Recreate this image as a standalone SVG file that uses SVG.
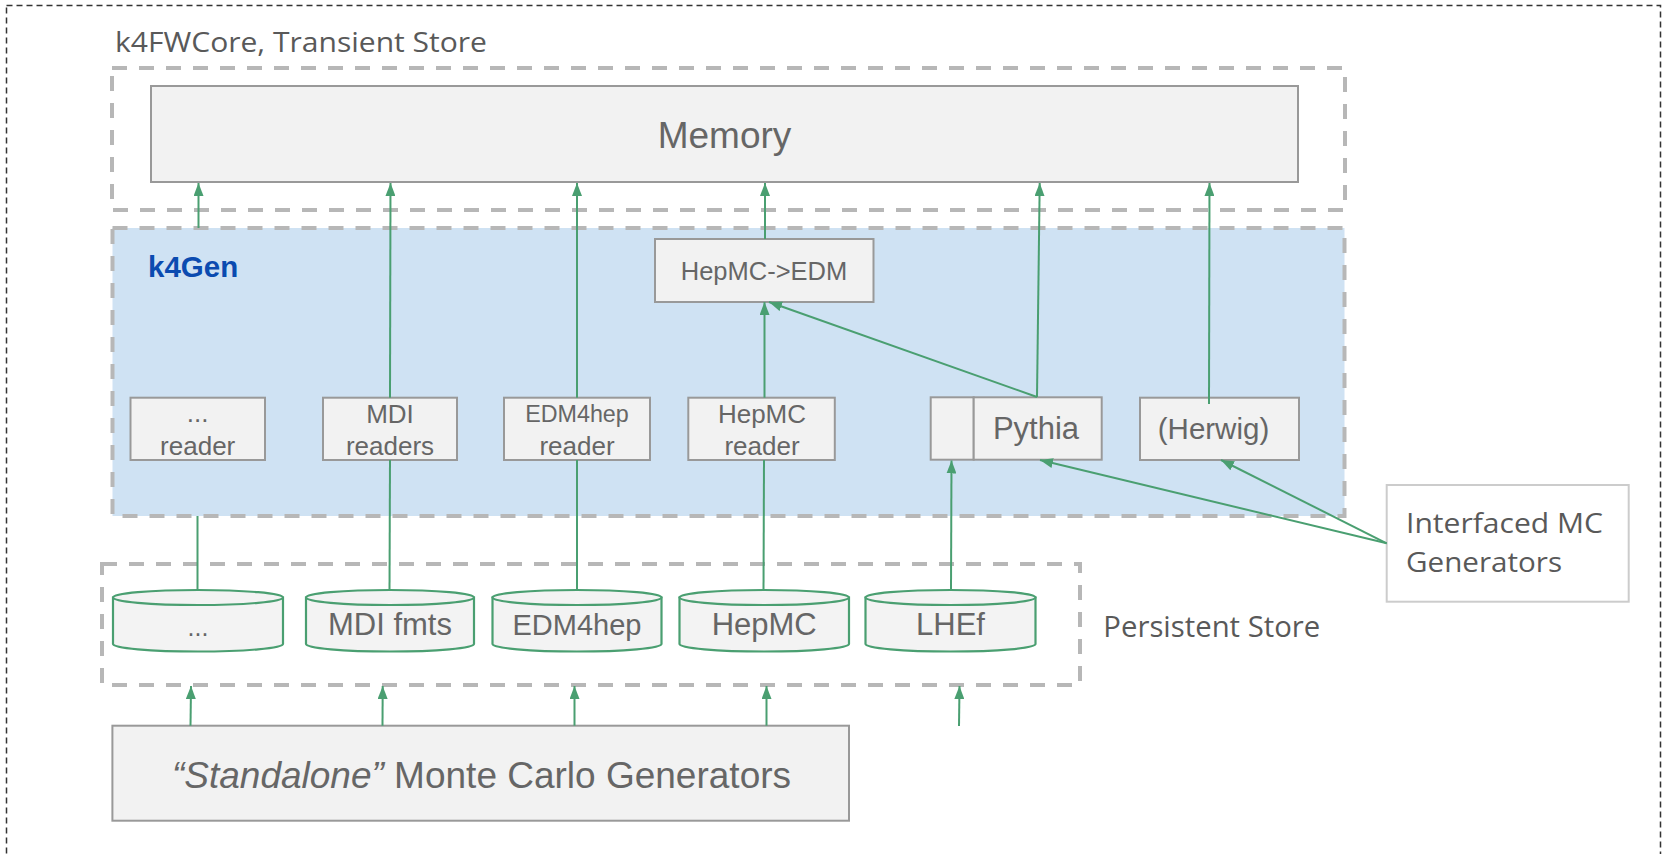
<svg xmlns="http://www.w3.org/2000/svg" width="1663" height="854" viewBox="0 0 1663 854">
<defs>
<style>
.box{fill:#f2f2f2;stroke:#999999;stroke-width:2}
.grp{fill:none;stroke:#b7b7b7;stroke-width:4;stroke-dasharray:15 12}
.cyl{fill:#f3f3f3;stroke:#4a9f71;stroke-width:2.2}
.t{font-family:"Liberation Sans",Arial,sans-serif;fill:#666666;text-anchor:middle}
.p{font-family:"Open Sans","Liberation Sans",sans-serif;fill:#595959}
.c{fill:none;stroke:#4a9f71;stroke-width:2}
.a{marker-end:url(#ah)}
</style>
<marker id="ah" viewBox="0 0 13 10" refX="13" refY="5" markerWidth="13" markerHeight="10" markerUnits="userSpaceOnUse" orient="auto">
<path d="M0,0 L13,5 L0,10 z" fill="#4a9f71"/>
</marker>
</defs>
<rect width="1663" height="854" fill="#ffffff"/>
<rect id="outer" x="6.5" y="5.5" width="1654" height="870" fill="none" stroke="#333333" stroke-width="1.5" stroke-dasharray="6 4"/>

<g id="transient-store">
<rect class="grp" x="112" y="68" width="1233" height="142"/>
<text class="p" x="115" y="52" font-size="26.5" textLength="372" lengthAdjust="spacingAndGlyphs">k4FWCore, Transient Store</text>
</g>
<g id="memory">
<rect class="box" x="151" y="86" width="1147" height="96"/>
<text class="t" x="724.5" y="148" font-size="37">Memory</text>
</g>

<g id="k4gen">
<rect x="112.5" y="228" width="1232" height="288" fill="#cfe2f3"/>
<rect class="grp" x="112.5" y="228" width="1232" height="288"/>
<text x="148" y="277" font-family="Liberation Sans,Arial,sans-serif" font-weight="bold" font-size="29.5" fill="#0b4bb0">k4Gen</text>
</g>

<g id="hepmc2edm">
<rect class="box" x="655" y="239" width="218.5" height="63"/>
<text class="t" x="764" y="280" font-size="25.5">HepMC-&gt;EDM</text>
</g>

<g id="dots-reader">
<rect class="box" x="130.5" y="397.7" width="134.5" height="62.3"/>
<text class="t" x="197.7" y="422" font-size="26">...</text>
<text class="t" x="197.7" y="455" font-size="26">reader</text>
</g>
<g id="mdi-readers">
<rect class="box" x="323" y="397.7" width="134" height="62.3"/>
<text class="t" x="390" y="422.5" font-size="26">MDI</text>
<text class="t" x="390" y="455" font-size="26">readers</text>
</g>
<g id="edm4hep-reader">
<rect class="box" x="504" y="397.7" width="146" height="62.3"/>
<text class="t" x="577" y="422" font-size="23.3">EDM4hep</text>
<text class="t" x="577" y="455" font-size="26">reader</text>
</g>
<g id="hepmc-reader">
<rect class="box" x="688.3" y="397.7" width="146.5" height="62.3"/>
<text class="t" x="762" y="422.5" font-size="26">HepMC</text>
<text class="t" x="762" y="455" font-size="26">reader</text>
</g>
<g id="pythia">
<rect class="box" x="930.7" y="397.3" width="43" height="62.4"/>
<rect class="box" x="973.7" y="397.3" width="128" height="62.4"/>
<text class="t" x="1036" y="439.3" font-size="31">Pythia</text>
</g>
<g id="herwig">
<rect class="box" x="1140" y="397.7" width="159" height="62.3"/>
<text class="t" x="1213.5" y="439.3" font-size="29.5">(Herwig)</text>
</g>

<g id="interfaced">
<rect x="1386.7" y="485" width="242" height="116.7" fill="#ffffff" stroke="#cccccc" stroke-width="2"/>
<text class="p" x="1406" y="533" font-size="28" textLength="197" lengthAdjust="spacingAndGlyphs">Interfaced MC</text>
<text class="p" x="1406" y="572" font-size="28" textLength="156" lengthAdjust="spacingAndGlyphs">Generators</text>
</g>

<g id="persistent-store">
<rect class="grp" x="102" y="564" width="978" height="121"/>
<text class="p" x="1103.3" y="637.3" font-size="29" textLength="217" lengthAdjust="spacingAndGlyphs">Persistent Store</text>
</g>

<g id="cyl-dots">
<path class="cyl" d="M113,597.5 L113,644 A85,7.5 0 0 0 283,644 L283,597.5 Z"/>
<ellipse class="cyl" cx="198" cy="597.5" rx="85" ry="7.5"/>
<text class="t" x="198" y="636" font-size="25">...</text>
</g>
<g id="cyl-mdi">
<path class="cyl" d="M306,597.5 L306,644 A84,7.5 0 0 0 474,644 L474,597.5 Z"/>
<ellipse class="cyl" cx="390" cy="597.5" rx="84" ry="7.5"/>
<text class="t" x="390" y="635" font-size="31">MDI fmts</text>
</g>
<g id="cyl-edm4hep">
<path class="cyl" d="M492.5,597.5 L492.5,644 A84.5,7.5 0 0 0 661.5,644 L661.5,597.5 Z"/>
<ellipse class="cyl" cx="577" cy="597.5" rx="84.5" ry="7.5"/>
<text class="t" x="577" y="635" font-size="29">EDM4hep</text>
</g>
<g id="cyl-hepmc">
<path class="cyl" d="M679.5,597.5 L679.5,644 A84.7,7.5 0 0 0 849,644 L849,597.5 Z"/>
<ellipse class="cyl" cx="764.2" cy="597.5" rx="84.7" ry="7.5"/>
<text class="t" x="764.2" y="635" font-size="31">HepMC</text>
</g>
<g id="cyl-lhef">
<path class="cyl" d="M865.5,597.5 L865.5,644 A85,7.5 0 0 0 1035.5,644 L1035.5,597.5 Z"/>
<ellipse class="cyl" cx="950.5" cy="597.5" rx="85" ry="7.5"/>
<text class="t" x="950.5" y="635" font-size="31">LHEf</text>
</g>

<g id="standalone">
<rect class="box" x="112.4" y="725.7" width="736.6" height="95"/>
<text class="t" x="481.5" y="788.3" font-size="37"><tspan font-style="italic">“Standalone”</tspan> Monte Carlo Generators</text>
</g>

<g id="connectors">
<line class="c a" x1="198.5" y1="228" x2="198.5" y2="183"/>
<line class="c a" x1="390" y1="397.7" x2="390.5" y2="183"/>
<line class="c a" x1="577" y1="397.7" x2="577" y2="183"/>
<line class="c a" x1="765" y1="239" x2="765" y2="183"/>
<line class="c a" x1="764.5" y1="397.7" x2="764.5" y2="302"/>
<line class="c a" x1="1037" y1="397" x2="769" y2="302"/>
<line class="c a" x1="1037" y1="397" x2="1039.7" y2="183"/>
<line class="c a" x1="1209" y1="404" x2="1209.5" y2="183"/>
<line class="c a" x1="1386.7" y1="543.3" x2="1040" y2="460"/>
<line class="c a" x1="1386.7" y1="543.3" x2="1221" y2="460"/>
<line class="c" x1="197.5" y1="516" x2="197.5" y2="590"/>
<line class="c" x1="390" y1="460" x2="389.5" y2="590"/>
<line class="c" x1="577" y1="460" x2="577" y2="590"/>
<line class="c" x1="764" y1="460" x2="763.5" y2="590"/>
<line class="c a" x1="951" y1="590" x2="951.5" y2="460.5"/>
<line class="c a" x1="190.5" y1="725.7" x2="191" y2="686"/>
<line class="c a" x1="382.5" y1="725.7" x2="382.7" y2="686"/>
<line class="c a" x1="574.5" y1="725.7" x2="574.5" y2="686"/>
<line class="c a" x1="766.5" y1="725.7" x2="766.5" y2="686"/>
<line class="c a" x1="959" y1="726" x2="959.5" y2="686"/>
</g>
</svg>
